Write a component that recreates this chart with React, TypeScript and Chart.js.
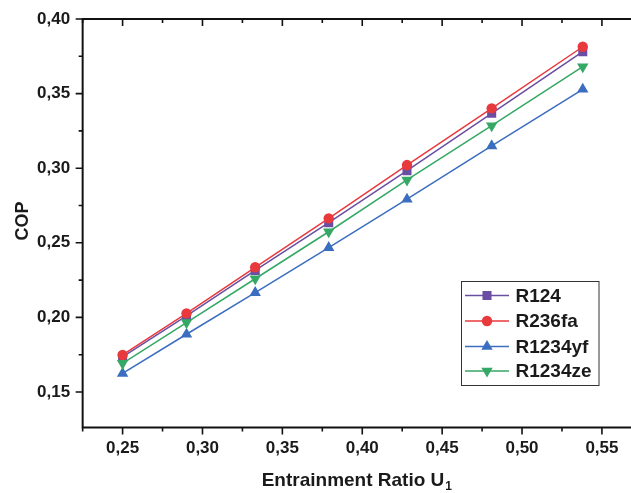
import React, { useEffect, useRef } from 'react';
import { Chart, registerables } from 'chart.js';

Chart.register(...registerables);

// ---- data ----
const U1 = [0.25, 0.29, 0.333, 0.379, 0.428, 0.481, 0.538];
const R124 = [0.1735, 0.201, 0.2315, 0.2635, 0.2983, 0.3368, 0.3781];
const R236FA = [0.1748, 0.2027, 0.2336, 0.2664, 0.3021, 0.3401, 0.3814];
const R1234YF = [0.1625, 0.1887, 0.2166, 0.2467, 0.2792, 0.3149, 0.3529];
const R1234ZE = [0.1692, 0.1965, 0.2259, 0.2574, 0.2921, 0.3285, 0.368];
const SERIES_NAMES = ['R124', 'R236fa', 'R1234yf', 'R1234ze'];
const X_TICKS = [0.25, 0.3, 0.35, 0.4, 0.45, 0.5, 0.55];
const X_MINOR = [0.225, 0.275, 0.325, 0.375, 0.425, 0.475, 0.525];
const Y_TICKS = [0.15, 0.2, 0.25, 0.3, 0.35, 0.4];
const Y_MINOR = [0.175, 0.225, 0.275, 0.325, 0.375];
const X_TITLE = 'Entrainment Ratio U';
const X_TITLE_SUB = '1';
const Y_TITLE = 'COP';

const FONT = '"Liberation Sans", Arial, Helvetica, sans-serif';
const COLORS = ['#6a4ea3', '#e8393c', '#3b6ec0', '#36a865'];
const STYLES: any[] = ['rect', 'circle', 'triangle', 'triangle'];
const ROTS = [0, 0, 0, 180];
const RADII = [6.4, 5.2, 6.6, 6.6];

function drawMarker(ctx: CanvasRenderingContext2D, style: string, rot: number, r: number, x: number, y: number, color: string) {
  ctx.save();
  ctx.fillStyle = color;
  ctx.beginPath();
  if (style === 'rect') {
    const s = Math.SQRT1_2 * r;
    ctx.rect(x - s, y - s, 2 * s, 2 * s);
  } else if (style === 'circle') {
    ctx.arc(x, y, r, 0, Math.PI * 2);
  } else {
    let rad = (rot * Math.PI) / 180;
    ctx.moveTo(x + Math.sin(rad) * r, y - Math.cos(rad) * r);
    rad += (2 * Math.PI) / 3;
    ctx.lineTo(x + Math.sin(rad) * r, y - Math.cos(rad) * r);
    rad += (2 * Math.PI) / 3;
    ctx.lineTo(x + Math.sin(rad) * r, y - Math.cos(rad) * r);
    ctx.closePath();
  }
  ctx.fill();
  ctx.restore();
}

const decoPlugin = {
  id: 'deco',
  afterDraw(chart: any) {
    const ctx: CanvasRenderingContext2D = chart.ctx;
    const { left, right, top, bottom } = chart.chartArea;
    const xs = chart.scales.x;
    const ys = chart.scales.y;
    ctx.save();
    ctx.strokeStyle = '#111';
    ctx.lineCap = 'butt';
    // frame lines
    ctx.lineWidth = 2;
    ctx.beginPath();
    ctx.moveTo(left, top);
    ctx.lineTo(right, top);
    ctx.moveTo(left, top - 1);
    ctx.lineTo(left, bottom + 1);
    ctx.moveTo(left - 1, bottom);
    ctx.lineTo(right, bottom);
    ctx.stroke();
    // ticks
    ctx.lineWidth = 1.6;
    ctx.beginPath();
    const xt = (vals: number[], len: number) => {
      vals.forEach((v) => {
        const px = xs.getPixelForValue(v);
        if (px < left - 1 || px > right) return;
        ctx.moveTo(px, bottom);
        ctx.lineTo(px, bottom + len);
        ctx.moveTo(px, top);
        ctx.lineTo(px, top + len);
      });
    };
    xt(X_TICKS, 7);
    xt(X_MINOR, 4);
    const yt = (vals: number[], len: number) => {
      vals.forEach((v) => {
        const py = ys.getPixelForValue(v);
        if (py < top - 1 || py > bottom + 1) return;
        ctx.moveTo(left, py);
        ctx.lineTo(left - len, py);
      });
    };
    yt(Y_TICKS, 7);
    yt(Y_MINOR, 4);
    ctx.stroke();

    // axis titles
    ctx.fillStyle = '#1a1a1a';
    ctx.font = `bold 19px ${FONT}`;
    ctx.textBaseline = 'alphabetic';
    const mainW = ctx.measureText(X_TITLE).width;
    ctx.font = `bold 12px ${FONT}`;
    const subW = ctx.measureText(X_TITLE_SUB).width;
    const total = mainW + subW + 1;
    const cx = (left + right) / 2;
    const sx = cx - total / 2;
    ctx.font = `bold 19px ${FONT}`;
    ctx.textAlign = 'left';
    ctx.fillText(X_TITLE, sx, 486);
    ctx.font = `bold 12px ${FONT}`;
    ctx.fillText(X_TITLE_SUB, sx + mainW + 1, 490);

    ctx.save();
    ctx.translate(28, 221);
    ctx.rotate(-Math.PI / 2);
    ctx.font = `bold 18px ${FONT}`;
    ctx.textAlign = 'center';
    ctx.textBaseline = 'alphabetic';
    ctx.fillText(Y_TITLE, 0, 0);
    ctx.restore();

    // legend
    const bx = 461.5, by = 281.5, bw = 137.5, bh = 104;
    ctx.fillStyle = '#ffffff';
    ctx.fillRect(bx, by, bw, bh);
    ctx.strokeStyle = '#333';
    ctx.lineWidth = 1;
    ctx.strokeRect(bx, by, bw, bh);
    const rows = [295.5, 321, 346.5, 371];
    chart.data.datasets.forEach((ds: any, i: number) => {
      const ry = rows[i];
      ctx.strokeStyle = COLORS[i];
      ctx.lineWidth = 1.5;
      ctx.beginPath();
      ctx.moveTo(465, ry);
      ctx.lineTo(509, ry);
      ctx.stroke();
      drawMarker(ctx, STYLES[i], ROTS[i], RADII[i], 487, ry, COLORS[i]);
      ctx.fillStyle = '#1a1a1a';
      ctx.font = `bold 19px ${FONT}`;
      ctx.textAlign = 'left';
      ctx.textBaseline = 'middle';
      ctx.fillText(ds.label, 515.5, ry + 1);
    });
    ctx.restore();
  },
};

const fmt = (v: any) => Number(v).toFixed(2).replace('.', ',');

export default function App() {
  const ref = useRef<HTMLCanvasElement>(null);
  useEffect(() => {
    document.body.style.margin = '0';
    const cols = [R124, R236FA, R1234YF, R1234ZE];
    const chart = new Chart(ref.current as HTMLCanvasElement, {
      type: 'scatter',
      data: {
        datasets: cols.map((vals, i) => ({
          label: SERIES_NAMES[i],
          data: U1.map((x, j) => ({ x, y: vals[j] })),
          showLine: true,
          borderColor: COLORS[i],
          backgroundColor: COLORS[i],
          borderWidth: 1.5,
          pointStyle: STYLES[i],
          rotation: ROTS[i],
          pointRadius: RADII[i],
          pointHoverRadius: RADII[i],
          pointBorderWidth: 0,
          pointBorderColor: COLORS[i],
          order: 4 - i,
        })),
      },
      options: {
        responsive: false,
        animation: false,
        events: [],
        layout: { autoPadding: false, padding: { left: 0, top: 19, right: 0, bottom: 0 } },
        plugins: { legend: { display: false }, tooltip: { enabled: false } },
        scales: {
          x: {
            type: 'linear',
            min: 0.225,
            max: 0.5682,
            grid: { display: false, drawTicks: false },
            border: { display: false },
            afterBuildTicks: (s: any) => {
              s.ticks = X_TICKS.map((v) => ({ value: v }));
            },
            afterFit: (s: any) => {
              s.height = 65.5;
              s.paddingLeft = 0;
              s.paddingRight = 0;
            },
            ticks: {
              padding: 11,
              color: '#1a1a1a',
              font: { family: FONT, size: 17, weight: 'bold' },
              callback: fmt,
              maxRotation: 0,
            },
          },
          y: {
            type: 'linear',
            min: 0.1262,
            max: 0.4,
            grid: { display: false, drawTicks: false },
            border: { display: false },
            afterBuildTicks: (s: any) => {
              s.ticks = Y_TICKS.map((v) => ({ value: v }));
            },
            afterFit: (s: any) => {
              s.width = 82.65;
              s.paddingTop = 0;
              s.paddingBottom = 0;
            },
            ticks: {
              padding: 12.5,
              color: '#1a1a1a',
              font: { family: FONT, size: 17, weight: 'bold' },
              callback: fmt,
            },
          },
        },
      },
      plugins: [decoPlugin],
    } as any);
    return () => chart.destroy();
  }, []);
  return (
    <div style={{ width: 631, height: 493 }}>
      <canvas ref={ref} width={631} height={493} style={{ display: 'block' }} />
    </div>
  );
}
